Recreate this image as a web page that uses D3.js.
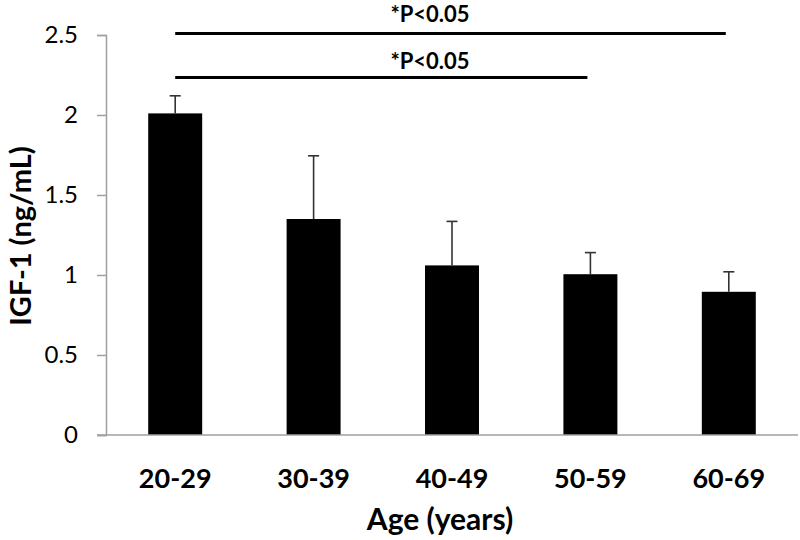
<!DOCTYPE html>
<html>
<head>
<meta charset="utf-8">
<script src="https://cdn.jsdelivr.net/npm/d3@7"></script>
<style>
  html, body { margin: 0; padding: 0; background: #fff; }
  svg { display: block; font-family: Lato, "Open Sans", sans-serif; }
</style>
</head>
<body>
<svg id="chart" width="800" height="540"></svg>
<script>
// ---- data ----
const categories = ["20-29", "30-39", "40-49", "50-59", "60-69"];
const means = [2.01, 1.35, 1.06, 1.005, 0.895];
const errorTops = [2.12, 1.745, 1.335, 1.14, 1.02];
const yTicks = [0, 0.5, 1, 1.5, 2, 2.5];
const significance = [
  { from: "20-29", to: "60-69", level: 2.51, label: "*P<0.05", labelLevel: 2.58 },
  { from: "20-29", to: "50-59", level: 2.235, label: "*P<0.05", labelLevel: 2.29 }
];
const yTitle = "IGF-1 (ng/mL)";
const xTitle = "Age (years)";

// ---- layout ----
const svg = d3.select("#chart");
const mLeft = 106, mRight = 798, mTop = 35, mBottom = 435;

const x = d3.scaleBand().domain(categories).range([mLeft, mRight])
  .paddingInner(0.61).paddingOuter(0.305);
const y = d3.scaleLinear().domain([0, 2.5]).range([mBottom, mTop]);

// y axis
const yAxis = svg.append("g").attr("transform", `translate(${mLeft},0)`)
  .call(d3.axisLeft(y).tickValues(yTicks).tickFormat(d3.format("")).tickSize(9).tickPadding(19));
yAxis.select(".domain").attr("stroke", "#a0a0a0").attr("stroke-width", 1.5);
yAxis.selectAll(".tick line").attr("stroke", "#a0a0a0").attr("stroke-width", 1.5);
yAxis.selectAll(".tick text").attr("fill", "#000").style("font-size", "24px").style("font-family", "Lato");

// bars
svg.append("g").selectAll("rect").data(categories).join("rect")
  .attr("x", d => x(d))
  .attr("width", x.bandwidth())
  .attr("y", (d, i) => y(means[i]))
  .attr("height", (d, i) => y(0) - y(means[i]))
  .attr("fill", "#000");

// error bars (upper only)
const eg = svg.append("g").attr("stroke", "#333").attr("stroke-width", 1.6);
categories.forEach((c, i) => {
  const cx = x(c) + x.bandwidth() / 2;
  eg.append("line").attr("x1", cx).attr("x2", cx).attr("y1", y(means[i])).attr("y2", y(errorTops[i]));
  eg.append("line").attr("x1", cx - 5.5).attr("x2", cx + 5.5).attr("y1", y(errorTops[i])).attr("y2", y(errorTops[i]));
});

// x axis line
const xAxis = svg.append("g").attr("transform", `translate(0,${mBottom})`)
  .call(d3.axisBottom(x).tickSize(0).tickPadding(34));
xAxis.select(".domain").attr("stroke", "#a0a0a0").attr("stroke-width", 1.5)
  .attr("d", `M${mLeft - 9},0H${mRight}`);
xAxis.selectAll(".tick text").attr("fill", "#000").style("font-size", "27px")
  .style("font-weight", "bold").style("font-family", "Lato");

// significance lines
const textX = (x("40-49") + x.bandwidth() / 2) - 22;
significance.forEach(s => {
  svg.append("line")
    .attr("x1", x(s.from) + x.bandwidth() / 2)
    .attr("x2", x(s.to) + x.bandwidth() / 2 - 3)
    .attr("y1", y(s.level)).attr("y2", y(s.level))
    .attr("stroke", "#000").attr("stroke-width", 3);
  svg.append("text")
    .attr("x", textX).attr("y", y(s.labelLevel))
    .attr("text-anchor", "middle")
    .style("font-size", "22px").style("font-weight", "bold")
    .text(s.label);
});

// axis titles
svg.append("text")
  .attr("x", (mLeft + mRight) / 2 - 12).attr("y", 530)
  .attr("text-anchor", "middle")
  .style("font-size", "30px").style("font-weight", "bold")
  .text(xTitle);

svg.append("text")
  .attr("transform", `translate(31,${(mTop + mBottom) / 2 + 1}) rotate(-90)`)
  .attr("text-anchor", "middle")
  .style("font-size", "29px").style("font-weight", "bold")
  .text(yTitle);
</script>
</body>
</html>
